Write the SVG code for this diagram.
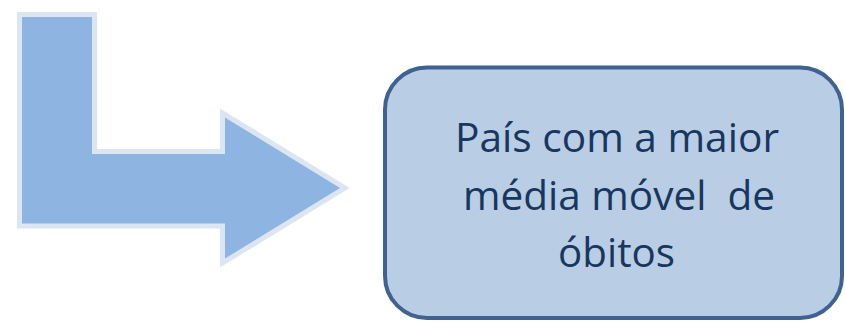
<svg xmlns="http://www.w3.org/2000/svg" width="845" height="324" viewBox="0 0 845 324">
<style>
.arrow{fill:#8eb4e2;stroke:#dce6f2;stroke-width:5;stroke-linejoin:miter;stroke-miterlimit:10}
.box{fill:#b9cde5;stroke:#3f6290;stroke-width:4}
.lbl{font-family:"Open Sans","Liberation Sans",sans-serif;font-size:41px;fill:#17375e;text-anchor:middle;white-space:pre}
</style>
<g id="connectors">
<g id="bent-arrow">
<path class="arrow" d="M19.5,14.5 H94.5 V151.5 H222.5 V113 L345,188 L222.5,263 V226 H19.5 Z"/>
</g>
</g>
<g id="node-result">
<rect class="box" x="385" y="67.5" width="457" height="250.5" rx="42" ry="42"/>
<text class="lbl" xml:space="preserve"><tspan x="617" y="152" textLength="324" lengthAdjust="spacingAndGlyphs">País com a maior</tspan><tspan x="619" y="210" textLength="312" lengthAdjust="spacingAndGlyphs">média móvel  de</tspan><tspan x="616.5" y="267" textLength="117" lengthAdjust="spacingAndGlyphs">óbitos</tspan></text>
</g>
</svg>
